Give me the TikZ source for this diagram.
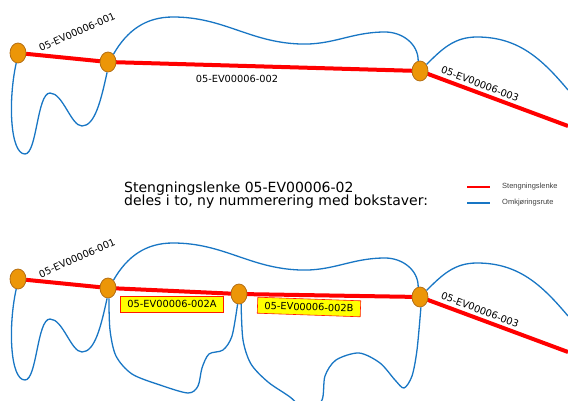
\documentclass[tikz,border=0pt]{standalone}
\usepackage{fontspec}
\setmainfont{DejaVu Sans}
\newfontfamily\legendfont{Liberation Sans}
\definecolor{knotfill}{RGB}{236,150,8}
\definecolor{knotdraw}{RGB}{180,110,20}
\definecolor{detourblue}{RGB}{24,118,196}
\definecolor{closedred}{RGB}{255,0,0}
\definecolor{tagyellow}{RGB}{255,255,0}
\tikzstyle{knot} = [ellipse, minimum width=16pt, minimum height=20pt, inner sep=0pt, draw=knotdraw, line width=0.8pt, fill=knotfill]
\tikzstyle{closure} = [closedred, line width=4pt]
\tikzstyle{detour} = [detourblue, line width=1.3pt]
\tikzstyle{linkname} = [inner sep=1pt, font=\fontsize{9.8}{9.8}\selectfont]
\tikzstyle{newname} = [rectangle, draw=red!80!orange, fill=tagyellow, line width=0.6pt, minimum width=103pt, minimum height=16pt, inner sep=1pt, font=\fontsize{9.8}{9.8}\selectfont]
\tikzstyle{legendtext} = [anchor=west, inner sep=0pt, text=black!75, font=\legendfont\fontsize{7.5}{7.5}\selectfont]
\tikzstyle{titletext} = [anchor=base west, inner sep=0pt, font=\fontsize{14}{14}\selectfont]
\usetikzlibrary{shapes.geometric}

\begin{document}
\begin{tikzpicture}[x=1pt, y=1pt]

    \useasboundingbox (0,0) rectangle (568,400);
    \clip (0,0) rectangle (568,400);

    % Top: today's links
    \coordinate (rightA) at (568,274);
    \draw [closure] (18,347) -- (108,338) -- (420,329) -- (rightA);
    \node (knotA1) [knot] at (18,347) {};
    \node (knotA2) [knot] at (108,338) {};
    \node (knotA3) [knot] at (420,329) {};

    \draw [detour] (knotA1.260) .. controls (8,300) and (10,246) .. (25,246)
        .. controls (37,246) and (37,307) .. (50,307)
        .. controls (63,307) and (71,274) .. (82,274)
        .. controls (95,274) and (101,300) .. (knotA2.265);
    \draw [detour] (knotA2.55) to[out=60,in=180] (173,383) to[out=0,in=178] (300,356)
        to[out=-2,in=180] (385,368) to[out=0,in=90] (knotA3.100);
    \draw [detour] (knotA3.45) to[out=45,in=180] (477,363) to[out=0,in=130] (568,310);

    \node (linkA1) [linkname, rotate=24] at (77,368) {05-EV00006-001};
    \node (linkA2) [linkname] at (237,321) {05-EV00006-002};
    \node (linkA3) [linkname, rotate=-21] at (480,316) {05-EV00006-003};

    % Text and legend
    \node (title1) [titletext] at (124,208) {Stengningslenke 05-EV00006-02};
    \node (title2) [titletext] at (124,195) {deles i to, ny nummerering med bokstaver:};

    \coordinate (keyRedL) at (467,213);
    \coordinate (keyRedR) at (490,213);
    \coordinate (keyBlueL) at (467,197);
    \coordinate (keyBlueR) at (490,197);
    \draw [closedred, line width=2.2pt] (keyRedL) -- (keyRedR);
    \draw [detourblue, line width=1.3pt] (keyBlueL) -- (keyBlueR);
    \node (keyRed) [legendtext] at (502,213) {Stengningslenke};
    \node (keyBlue) [legendtext] at (502,197) {Omkjøringsrute};

    % Bottom: link 002 split in two
    \coordinate (rightB) at (568,48);
    \draw [closure] (18,121) -- (108,112) -- (239,106) -- (420,103) -- (rightB);
    \node (knotB1) [knot] at (18,121) {};
    \node (knotB2) [knot] at (108,112) {};
    \node (knotB3) [knot] at (239,106) {};
    \node (knotB4) [knot] at (420,103) {};

    \draw [detour] (knotB1.260) .. controls (8,74) and (10,20) .. (25,20)
        .. controls (37,20) and (37,81) .. (50,81)
        .. controls (63,81) and (71,48) .. (82,48)
        .. controls (95,48) and (101,74) .. (knotB2.265);
    \draw [detour] (knotB2.55) to[out=60,in=180] (173,157) to[out=0,in=178] (300,130)
        to[out=-2,in=180] (385,142) to[out=0,in=90] (knotB4.100);
    \draw [detour] (knotB4.45) to[out=45,in=180] (477,137) to[out=0,in=130] (568,84);
    \draw [detour] plot[smooth] coordinates {(knotB2.275) (110,70) (116,44) (132,26) (160,15)
        (188,7) (198,14) (202,32) (209,46) (223,50) (232,64) (knotB3.262)};
    \draw [detour] plot[smooth] coordinates {(knotB3.282) (243,60) (251,36) (268,18) (290,3)
        (308,-12) (322,0) (325,24) (336,40) (359,47) (380,37) (395,20) (404,12) (412,24)
        (417,50) (knotB4.275)};

    \node (linkB1) [linkname, rotate=24] at (77,142) {05-EV00006-001};
    \node (linkB2a) [newname] at (172,96) {05-EV00006-002A};
    \node (linkB2b) [newname, rotate=-2] at (309,93) {05-EV00006-002B};
    \node (linkB3) [linkname, rotate=-21] at (480,90) {05-EV00006-003};

\end{tikzpicture}
\end{document}
